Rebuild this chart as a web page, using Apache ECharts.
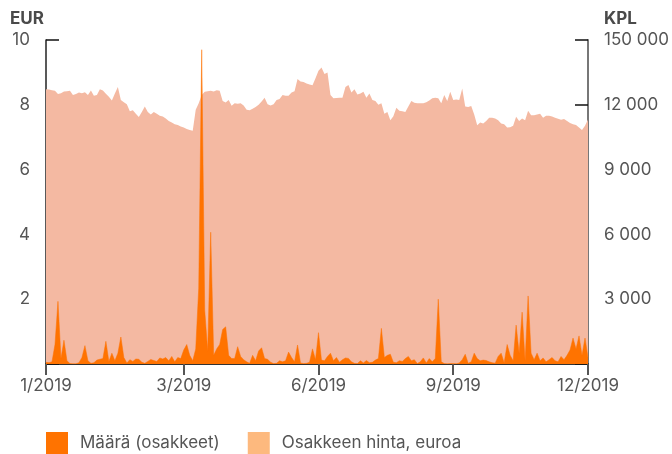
<!DOCTYPE html>
<html>
<head>
<meta charset="utf-8">
<script src="https://cdn.jsdelivr.net/npm/echarts@6/dist/echarts.min.js"></script>
<style>
  html, body { margin: 0; padding: 0; background: #fff; }
  #chart { width: 672px; height: 454px; }
</style>
</head>
<body>
<div id="chart"></div>
<script>
//Données
const hinta = [
  8.48, 8.47, 8.45, 8.43, 8.33, 8.36, 8.41, 8.42, 8.43, 8.30,
  8.33, 8.38, 8.36, 8.39, 8.30, 8.44, 8.28, 8.30, 8.48, 8.44,
  8.34, 8.25, 8.13, 8.35, 8.55, 8.15, 8.08, 8.02, 7.80, 7.83,
  7.72, 7.62, 7.78, 7.95, 7.78, 7.70, 7.78, 7.72, 7.66, 7.64,
  7.58, 7.50, 7.45, 7.40, 7.38, 7.33, 7.30, 7.25, 7.22, 7.20,
  7.85, 8.05, 8.30, 8.40, 8.42, 8.43, 8.41, 8.45, 8.43, 8.12,
  8.07, 8.15, 7.97, 8.05, 8.03, 8.05, 7.98, 7.85, 7.83, 7.88,
  7.93, 8.00, 8.10, 8.22, 8.02, 7.98, 8.02, 8.15, 8.18, 8.30,
  8.28, 8.28, 8.38, 8.42, 8.80, 8.72, 8.70, 8.66, 8.63, 8.60,
  8.82, 9.05, 9.15, 8.95, 9.00, 8.30, 8.20, 8.21, 8.22, 8.22,
  8.55, 8.61, 8.38, 8.48, 8.32, 8.35, 8.40, 8.22, 8.35, 8.15,
  8.12, 8.00, 8.05, 7.72, 7.78, 7.52, 7.65, 7.91, 7.82, 7.80,
  7.78, 7.95, 8.12, 8.06, 8.05, 8.05, 8.05, 8.08, 8.13, 8.20,
  8.22, 8.20, 8.05, 8.30, 8.12, 8.40, 8.15, 8.16, 8.15, 8.50,
  7.95, 7.93, 7.96, 7.70, 7.37, 7.45, 7.42, 7.50, 7.60, 7.60,
  7.58, 7.52, 7.42, 7.40, 7.30, 7.31, 7.35, 7.63, 7.50, 7.58,
  7.52, 7.82, 7.68, 7.68, 7.70, 7.72, 7.60, 7.66, 7.66, 7.64,
  7.60, 7.57, 7.54, 7.56, 7.50, 7.44, 7.40, 7.38, 7.30, 7.22,
  7.35, 7.55
];

const maara = [
  80, 60, 100, 900, 2900, 250, 1100, 150, 20, 10,
  10, 60, 300, 850, 150, 30, 60, 180, 220, 250,
  1050, 120, 500, 150, 500, 1250, 300, 50, 200, 120,
  230, 220, 80, 30, 120, 210, 160, 120, 280, 230,
  300, 150, 350, 100, 300, 250, 650, 900, 400, 150,
  700, 3500, 14550, 2500, 600, 6100, 400, 700, 900, 1600,
  1720, 400, 250, 250, 800, 350, 200, 100, 30, 400,
  150, 600, 750, 250, 220, 80, 20, 30, 150, 100,
  150, 550, 300, 100, 880, 50, 20, 30, 80, 700,
  200, 1450, 180, 150, 350, 500, 150, 300, 80, 200,
  280, 260, 100, 30, 20, 150, 50, 160, 60, 80,
  180, 250, 1650, 300, 400, 450, 80, 60, 150, 120,
  250, 350, 150, 200, 20, 100, 280, 50, 250, 100,
  260, 3000, 100, 20, 10, 20, 20, 10, 50, 200,
  450, 30, 100, 500, 250, 150, 180, 160, 100, 60,
  40, 350, 500, 60, 900, 400, 150, 1800, 500, 2400,
  150, 3150, 500, 200, 500, 150, 280, 100, 200, 300,
  150, 100, 350, 200, 400, 650, 1200, 700, 1300, 400,
  1200, 300
];

const paivat = hinta.map((_, i) => i);
const xTickIndex = [0, 46, 91, 136, 181];
const xTickLabels = ['1/2019', '3/2019', '6/2019', '9/2019', '12/2019'];
const kplLabels = ['', '3 000', '6 000', '9 000', '12 000', '150 000'];

const chart = echarts.init(document.getElementById('chart'));
const fontFamily = 'Inter, sans-serif';

chart.setOption({
  backgroundColor: '#fff',
  animation: false,
  textStyle: { fontFamily },
  grid: { left: 46, right: 84, top: 40, bottom: 90 },
  graphic: [
    { type: 'text', left: 10, top: 10, style: { text: 'EUR', font: 'bold 17px ' + fontFamily, fill: '#4a4a4a' } },
    { type: 'text', left: 604, top: 10, style: { text: 'KPL', font: 'bold 17px ' + fontFamily, fill: '#4a4a4a' } }
  ],
  legend: {
    left: 41,
    top: 427,
    itemWidth: 22,
    itemHeight: 22,
    itemGap: 28,
    icon: 'rect',
    textStyle: { fontSize: 17, color: '#555', fontFamily, padding: [0, 0, 0, 7] },
    data: [
      { name: 'Määrä (osakkeet)', itemStyle: { color: '#ff7300' } },
      { name: 'Osakkeen hinta, euroa', itemStyle: { color: '#fdb97e' } }
    ]
  },
  xAxis: {
    type: 'category',
    data: paivat,
    boundaryGap: false,
    axisLine: { lineStyle: { color: '#333', width: 2 } },
    axisTick: {
      show: true,
      length: 11,
      interval: (i) => xTickIndex.includes(i),
      lineStyle: { color: '#555', width: 2 }
    },
    axisLabel: {
      interval: (i) => xTickIndex.includes(i),
      formatter: (v, i) => xTickLabels[xTickIndex.indexOf(i)] || '',
      color: '#555',
      fontSize: 17,
      margin: 13
    },
    splitLine: { show: false }
  },
  yAxis: [
    {
      type: 'value',
      min: 0, max: 10, interval: 2,
      axisLine: { show: true, lineStyle: { color: '#222', width: 1.5 } },
      axisTick: { show: true, inside: true, length: 13, lineStyle: { color: '#111', width: 1.5 } },
      axisLabel: { formatter: v => v === 0 ? '' : v, color: '#555', fontSize: 17, margin: 16 },
      splitLine: { show: false }
    },
    {
      type: 'value',
      min: 0, max: 15000, interval: 3000,
      position: 'right',
      axisLine: { show: true, lineStyle: { color: '#777', width: 2 } },
      axisTick: { show: true, inside: true, length: 13, lineStyle: { color: '#111', width: 1.5 } },
      axisLabel: { formatter: (v) => kplLabels[v / 3000], color: '#555', fontSize: 17, margin: 16 },
      splitLine: { show: false }
    }
  ],
  series: [
    {
      name: 'Osakkeen hinta, euroa',
      type: 'line',
      yAxisIndex: 0,
      data: hinta,
      symbol: 'none',
      lineStyle: { width: 0 },
      areaStyle: { color: '#f4b9a2', opacity: 1 },
      itemStyle: { color: '#f4b9a2' },
      z: 1
    },
    {
      name: 'Määrä (osakkeet)',
      type: 'line',
      yAxisIndex: 1,
      data: maara,
      symbol: 'none',
      lineStyle: { width: 0.5, color: '#ff7300' },
      areaStyle: { color: '#ff7300', opacity: 1 },
      itemStyle: { color: '#ff7300' },
      z: 2
    }
  ]
});

window.addEventListener('resize', () => chart.resize());
</script>
</body>
</html>
